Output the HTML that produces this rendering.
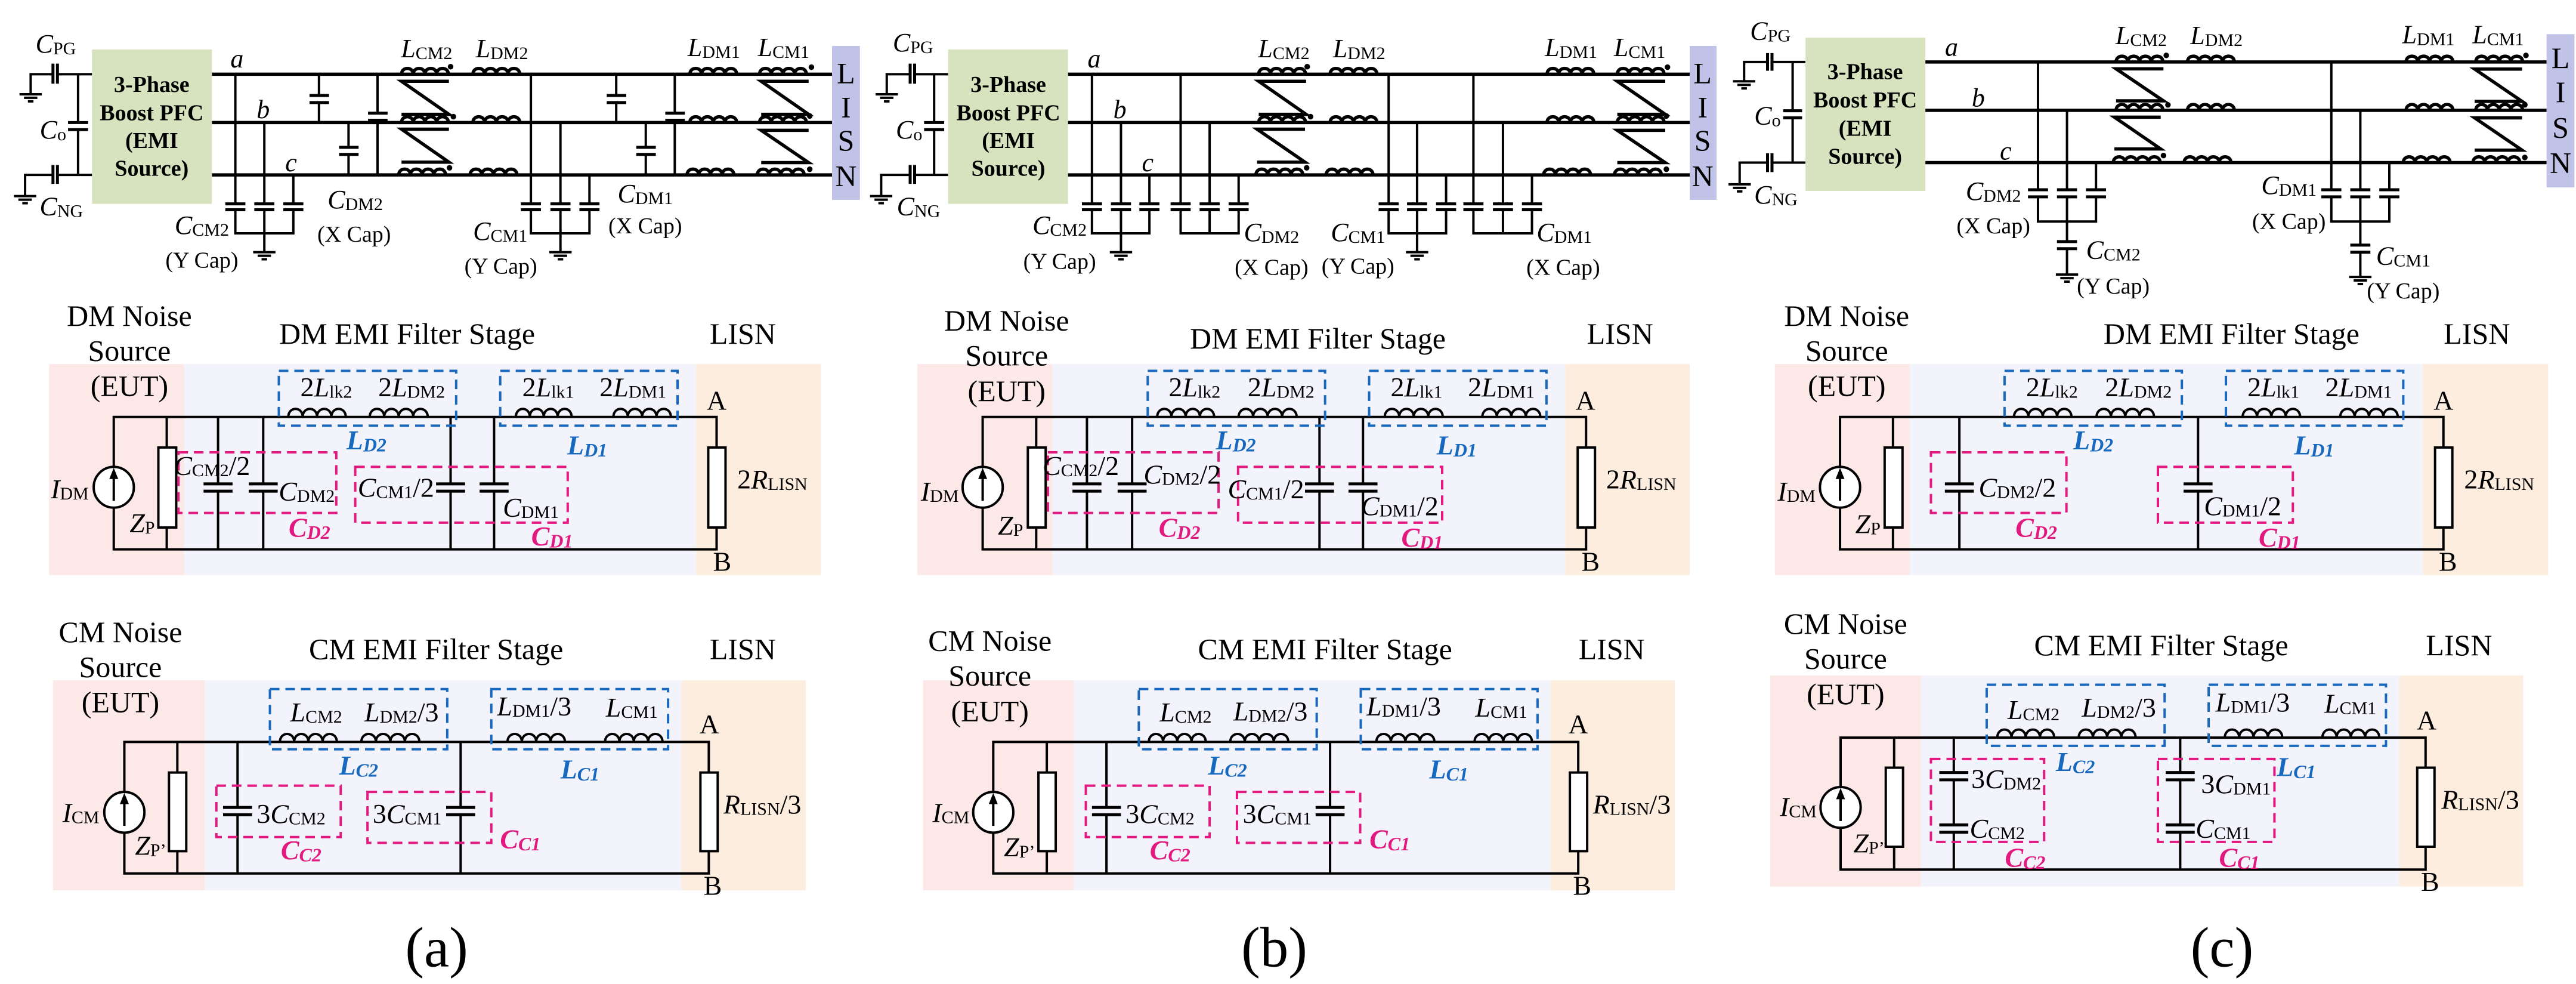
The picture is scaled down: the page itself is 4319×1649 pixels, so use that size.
<!DOCTYPE html>
<html><head><meta charset="utf-8"><style>
html,body{margin:0;padding:0;background:#fff}
svg{display:block}
svg text,svg tspan{font-family:"Liberation Serif","Times New Roman",serif}
text{text-anchor:middle;dominant-baseline:central;fill:#000}
.tt{transform-box:fill-box;transform-origin:center;transform:scale(1.0695,2.532);font-size:44px}
.tb{transform-box:fill-box;transform-origin:center;transform:scale(1.0695,1.23);font-size:46px}
.ttl{font-size:50px}
.cap{font-size:38px}
.big{font-size:95px}
.bf{font-weight:bold;font-size:38px}
.lis{font-size:50px}
.i{font-style:italic}
.pk{fill:#e2197f;font-weight:bold;font-style:italic}
.bl{fill:#1769bf;font-weight:bold;font-style:italic}
.w{stroke:#000;fill:none;stroke-width:4;vector-effect:non-scaling-stroke}
.W{stroke:#000;fill:none;stroke-width:5.5;vector-effect:non-scaling-stroke}
.p{stroke:#000;fill:none;stroke-width:5;vector-effect:non-scaling-stroke}
.r{stroke:#000;fill:#fff;stroke-width:4;vector-effect:non-scaling-stroke}
.db{stroke:#1769bf;fill:none;stroke-width:4;stroke-dasharray:16 10;vector-effect:non-scaling-stroke}
.dp{stroke:#e2197f;fill:none;stroke-width:4;stroke-dasharray:16 10;vector-effect:non-scaling-stroke}
.pkb{fill:#fde8e8}.lav{fill:#f3f3fb}.pch{fill:#fdeddf}
</style></head><body>
<svg width="4319" height="1649" viewBox="0 0 4319 1649" xmlns="http://www.w3.org/2000/svg" font-family="Liberation Serif, serif">
<rect width="4319" height="1649" fill="#fff"/>

<!-- ============ PANEL A TOP ============ -->
<g transform="translate(0,0) scale(0.935,0.395)">
<path class="W" d="M380,315H1495M380,520H1495M380,742H1495"/>
<path class="w" d="M55,400V315H95M103,315H165M140,315V525M140,545V742M45,830V742H95M103,742H165"/>
<path class="p" d="M95,270V355M103,270V355M122,520H158M122,550H158M95,700V780M103,700V780"/>
<path class="w" d="M35,400H75M43,415H67M50,430H60M25,832H65M33,847H57M40,862H50"/>
<rect x="165" y="210" width="215" height="655" fill="#d7e3be"/>
<path class="w" d="M422,315V870M422,885V990H526V885M526,870V742M474,520V870M474,885V1070"/>
<path class="p" d="M404,865H440M404,890H440M456,865H492M456,890H492M508,865H544M508,890H544"/>
<path class="w" d="M454,1070H494M462,1085H486M469,1100H479"/>
<path class="w" d="M572,315V410M572,430V520M625,520V630M625,650V742M677,315V485M677,505V742"/>
<path class="p" d="M555,405H590M555,435H590M608,625H643M608,655H643M660,480H695M660,510H695"/>
<path class="w" d="M952,315V870M952,885V990H1057V885M1057,870V742M1005,520V870M1005,885V1070"/>
<path class="p" d="M934,865H970M934,890H970M987,865H1023M987,890H1023M1039,865H1075M1039,890H1075"/>
<path class="w" d="M985,1070H1025M993,1085H1017M1000,1100H1010"/>
<path class="w" d="M1105,315V410M1105,430V520M1158,520V630M1158,650V742M1210,315V485M1210,505V742"/>
<path class="p" d="M1088,405H1123M1088,435H1123M1141,625H1176M1141,655H1176M1193,480H1228M1193,510H1228"/>
<path class="W" d="M720,315c0,-33 21,-33 21,0c0,-33 21,-33 21,0c0,-33 21,-33 21,0c0,-33 21,-33 21,0M720,520c0,-33 21,-33 21,0c0,-33 21,-33 21,0c0,-33 21,-33 21,0c0,-33 21,-33 21,0M715,742c0,-33 21,-33 21,0c0,-33 21,-33 21,0c0,-33 21,-33 21,0c0,-33 21,-33 21,0"/>
<path class="W" d="M848,315c0,-33 21,-33 21,0c0,-33 21,-33 21,0c0,-33 21,-33 21,0c0,-33 21,-33 21,0M848,520c0,-33 21,-33 21,0c0,-33 21,-33 21,0c0,-33 21,-33 21,0c0,-33 21,-33 21,0M843,742c0,-33 21,-33 21,0c0,-33 21,-33 21,0c0,-33 21,-33 21,0c0,-33 21,-33 21,0"/>
<path class="W" d="M1237,315c0,-33 21,-33 21,0c0,-33 21,-33 21,0c0,-33 21,-33 21,0c0,-33 21,-33 21,0M1237,520c0,-33 21,-33 21,0c0,-33 21,-33 21,0c0,-33 21,-33 21,0c0,-33 21,-33 21,0M1232,742c0,-33 21,-33 21,0c0,-33 21,-33 21,0c0,-33 21,-33 21,0c0,-33 21,-33 21,0"/>
<path class="W" d="M1362,315c0,-33 21,-33 21,0c0,-33 21,-33 21,0c0,-33 21,-33 21,0c0,-33 21,-33 21,0M1362,520c0,-33 21,-33 21,0c0,-33 21,-33 21,0c0,-33 21,-33 21,0c0,-33 21,-33 21,0M1358,742c0,-33 21,-33 21,0c0,-33 21,-33 21,0c0,-33 21,-33 21,0c0,-33 21,-33 21,0"/>
<path class="W" d="M805,345H720L805,485H720M805,548H720L805,688H720M1450,345H1365L1450,485H1365M1450,553H1365L1450,690H1365"/>
<g fill="#000"><ellipse cx="808" cy="283" rx="5" ry="12"/><ellipse cx="813" cy="495" rx="5" ry="12"/><ellipse cx="806" cy="712" rx="5" ry="12"/><ellipse cx="1455" cy="285" rx="5" ry="12"/><ellipse cx="1452" cy="492" rx="5" ry="12"/><ellipse cx="1452" cy="718" rx="5" ry="12"/></g>
<rect x="1492" y="195" width="50" height="653" fill="#c0c3e7"/>
<text class="tt" x="100" y="185"><tspan class="i">C</tspan><tspan font-size="30" dy="8">PG</tspan></text>
<text class="tt" x="95" y="550"><tspan class="i">C</tspan><tspan font-size="30" dy="8">o</tspan></text>
<text class="tt" x="110" y="875"><tspan class="i">C</tspan><tspan font-size="30" dy="8">NG</tspan></text>
<text class="tt bf" x="272" y="360">3-Phase</text><text class="tt bf" x="272" y="480">Boost PFC</text><text class="tt bf" x="272" y="597">(EMI</text><text class="tt bf" x="272" y="715">Source)</text>
<text class="tt i" x="425" y="250">a</text><text class="tt i" x="472" y="465">b</text><text class="tt i" x="522" y="690">c</text>
<text class="tt" x="765" y="205"><tspan class="i">L</tspan><tspan font-size="30" dy="8">CM2</tspan></text>
<text class="tt" x="900" y="205"><tspan class="i">L</tspan><tspan font-size="30" dy="8">DM2</tspan></text>
<text class="tt" x="1280" y="200"><tspan class="i">L</tspan><tspan font-size="30" dy="8">DM1</tspan></text>
<text class="tt" x="1405" y="200"><tspan class="i">L</tspan><tspan font-size="30" dy="8">CM1</tspan></text>
<text class="tt" x="362" y="955"><tspan class="i">C</tspan><tspan font-size="30" dy="8">CM2</tspan></text>
<text class="tt cap" x="362" y="1105">(Y Cap)</text>
<text class="tt" x="637" y="845"><tspan class="i">C</tspan><tspan font-size="30" dy="8">DM2</tspan></text>
<text class="tt cap" x="635" y="995">(X Cap)</text>
<text class="tt" x="897" y="980"><tspan class="i">C</tspan><tspan font-size="30" dy="8">CM1</tspan></text>
<text class="tt cap" x="898" y="1130">(Y Cap)</text>
<text class="tt" x="1157" y="820"><tspan class="i">C</tspan><tspan font-size="30" dy="8">DM1</tspan></text>
<text class="tt cap" x="1157" y="960">(X Cap)</text>
<text class="tt lis" x="1517" y="310">L</text><text class="tt lis" x="1517" y="455">I</text><text class="tt lis" x="1517" y="595">S</text><text class="tt lis" x="1517" y="745">N</text>
</g>

<!-- ============ PANEL B TOP ============ -->
<g transform="translate(1440,0) scale(0.935,0.395)">
<path class="W" d="M375,315H1490M375,520H1490M375,742H1490"/>
<path class="w" d="M50,400V315H92M100,315H160M135,315V525M135,545V742M40,830V742H92M100,742H160"/>
<path class="p" d="M92,270V355M100,270V355M117,520H153M117,550H153M92,700V780M100,700V780"/>
<path class="w" d="M30,400H70M38,415H62M45,430H55M20,832H60M28,847H52M35,862H45"/>
<rect x="160" y="210" width="215" height="655" fill="#d7e3be"/>
<path class="w" d="M418,315V870M418,885V990H521V885M521,870V742M470,520V870M470,885V1070"/>
<path class="p" d="M400,865H436M400,890H436M452,865H488M452,890H488M503,865H539M503,890H539"/>
<path class="w" d="M450,1070H490M458,1085H482M465,1100H475"/>
<path class="w" d="M577,315V870M577,885V990H681V885M681,870V742M629,520V870M629,885V990"/>
<path class="p" d="M559,865H595M559,890H595M611,865H647M611,890H647M663,865H699M663,890H699"/>
<path class="w" d="M950,315V870M950,885V990H1053V885M1053,870V742M1001,520V870M1001,885V1070"/>
<path class="p" d="M932,865H968M932,890H968M983,865H1019M983,890H1019M1035,865H1071M1035,890H1071"/>
<path class="w" d="M981,1070H1021M989,1085H1013M996,1100H1006"/>
<path class="w" d="M1102,315V870M1102,885V990H1207V885M1207,870V742M1155,520V870M1155,885V990"/>
<path class="p" d="M1084,865H1120M1084,890H1120M1137,865H1173M1137,890H1173M1189,865H1225M1189,890H1225"/>
<path class="W" d="M717,315c0,-33 21,-33 21,0c0,-33 21,-33 21,0c0,-33 21,-33 21,0c0,-33 21,-33 21,0M717,520c0,-33 21,-33 21,0c0,-33 21,-33 21,0c0,-33 21,-33 21,0c0,-33 21,-33 21,0M712,742c0,-33 21,-33 21,0c0,-33 21,-33 21,0c0,-33 21,-33 21,0c0,-33 21,-33 21,0"/>
<path class="W" d="M845,315c0,-33 21,-33 21,0c0,-33 21,-33 21,0c0,-33 21,-33 21,0c0,-33 21,-33 21,0M845,520c0,-33 21,-33 21,0c0,-33 21,-33 21,0c0,-33 21,-33 21,0c0,-33 21,-33 21,0M838,742c0,-33 21,-33 21,0c0,-33 21,-33 21,0c0,-33 21,-33 21,0c0,-33 21,-33 21,0"/>
<path class="W" d="M1234,315c0,-33 21,-33 21,0c0,-33 21,-33 21,0c0,-33 21,-33 21,0c0,-33 21,-33 21,0M1234,520c0,-33 21,-33 21,0c0,-33 21,-33 21,0c0,-33 21,-33 21,0c0,-33 21,-33 21,0M1228,742c0,-33 21,-33 21,0c0,-33 21,-33 21,0c0,-33 21,-33 21,0c0,-33 21,-33 21,0"/>
<path class="W" d="M1360,315c0,-33 21,-33 21,0c0,-33 21,-33 21,0c0,-33 21,-33 21,0c0,-33 21,-33 21,0M1360,520c0,-33 21,-33 21,0c0,-33 21,-33 21,0c0,-33 21,-33 21,0c0,-33 21,-33 21,0M1355,742c0,-33 21,-33 21,0c0,-33 21,-33 21,0c0,-33 21,-33 21,0c0,-33 21,-33 21,0"/>
<path class="W" d="M802,345H717L802,485H717M800,548H714L800,688H714M1446,345H1360L1446,485H1360M1446,553H1360L1446,690H1360"/>
<g fill="#000"><ellipse cx="804" cy="283" rx="5" ry="12"/><ellipse cx="810" cy="495" rx="5" ry="12"/><ellipse cx="803" cy="712" rx="5" ry="12"/><ellipse cx="1450" cy="285" rx="5" ry="12"/><ellipse cx="1448" cy="492" rx="5" ry="12"/><ellipse cx="1448" cy="718" rx="5" ry="12"/></g>
<rect x="1490" y="195" width="48" height="653" fill="#c0c3e7"/>
<text class="tt" x="97" y="180"><tspan class="i">C</tspan><tspan font-size="30" dy="8">PG</tspan></text>
<text class="tt" x="90" y="550"><tspan class="i">C</tspan><tspan font-size="30" dy="8">o</tspan></text>
<text class="tt" x="107" y="875"><tspan class="i">C</tspan><tspan font-size="30" dy="8">NG</tspan></text>
<text class="tt bf" x="268" y="360">3-Phase</text><text class="tt bf" x="268" y="480">Boost PFC</text><text class="tt bf" x="268" y="597">(EMI</text><text class="tt bf" x="268" y="715">Source)</text>
<text class="tt i" x="422" y="250">a</text><text class="tt i" x="468" y="465">b</text><text class="tt i" x="518" y="690">c</text>
<text class="tt" x="762" y="205"><tspan class="i">L</tspan><tspan font-size="30" dy="8">CM2</tspan></text>
<text class="tt" x="897" y="205"><tspan class="i">L</tspan><tspan font-size="30" dy="8">DM2</tspan></text>
<text class="tt" x="1277" y="200"><tspan class="i">L</tspan><tspan font-size="30" dy="8">DM1</tspan></text>
<text class="tt" x="1400" y="200"><tspan class="i">L</tspan><tspan font-size="30" dy="8">CM1</tspan></text>
<text class="tt" x="360" y="955"><tspan class="i">C</tspan><tspan font-size="30" dy="8">CM2</tspan></text>
<text class="tt cap" x="360" y="1110">(Y Cap)</text>
<text class="tt" x="740" y="985"><tspan class="i">C</tspan><tspan font-size="30" dy="8">DM2</tspan></text>
<text class="tt cap" x="740" y="1135">(X Cap)</text>
<text class="tt" x="895" y="985"><tspan class="i">C</tspan><tspan font-size="30" dy="8">CM1</tspan></text>
<text class="tt cap" x="895" y="1130">(Y Cap)</text>
<text class="tt" x="1265" y="985"><tspan class="i">C</tspan><tspan font-size="30" dy="8">DM1</tspan></text>
<text class="tt cap" x="1263" y="1135">(X Cap)</text>
<text class="tt lis" x="1513" y="310">L</text><text class="tt lis" x="1513" y="455">I</text><text class="tt lis" x="1513" y="595">S</text><text class="tt lis" x="1513" y="745">N</text>
</g>

<!-- ============ PANEL C TOP ============ -->
<g transform="translate(2870,0) scale(0.935,0.395)">
<path class="W" d="M383,263H1497M383,468H1497M383,690H1497"/>
<path class="w" d="M58,345V263H100M108,263H168M145,263V475M145,495V690M50,780V690H100M108,690H168"/>
<path class="p" d="M100,225V300M108,225V300M128,470H162M128,500H162M100,650V730M108,650V730"/>
<path class="w" d="M38,345H78M46,360H70M53,375H63M30,782H70M38,797H62M45,812H55"/>
<rect x="168" y="160" width="215" height="650" fill="#d7e3be"/>
<path class="w" d="M585,263V810M585,830V940H689V830M689,810V690M637,468V810M637,830V1030M637,1050V1165"/>
<path class="p" d="M567,805H603M567,835H603M619,805H655M619,835H655M671,805H707M671,835H707M619,1025H655M619,1055H655"/>
<path class="w" d="M617,1165H657M625,1180H649M632,1195H642"/>
<path class="w" d="M1111,263V810M1111,830V940H1215V830M1215,810V690M1163,468V810M1163,830V1045M1163,1065V1175"/>
<path class="p" d="M1093,805H1129M1093,835H1129M1145,805H1181M1145,835H1181M1197,805H1233M1197,835H1233M1145,1040H1181M1145,1070H1181"/>
<path class="w" d="M1143,1175H1183M1151,1190H1175M1158,1205H1168"/>
<path class="W" d="M725,263c0,-33 21,-33 21,0c0,-33 21,-33 21,0c0,-33 21,-33 21,0c0,-33 21,-33 21,0M725,468c0,-33 21,-33 21,0c0,-33 21,-33 21,0c0,-33 21,-33 21,0c0,-33 21,-33 21,0M720,690c0,-33 21,-33 21,0c0,-33 21,-33 21,0c0,-33 21,-33 21,0c0,-33 21,-33 21,0"/>
<path class="W" d="M853,263c0,-33 21,-33 21,0c0,-33 21,-33 21,0c0,-33 21,-33 21,0c0,-33 21,-33 21,0M853,468c0,-33 21,-33 21,0c0,-33 21,-33 21,0c0,-33 21,-33 21,0c0,-33 21,-33 21,0M847,690c0,-33 21,-33 21,0c0,-33 21,-33 21,0c0,-33 21,-33 21,0c0,-33 21,-33 21,0"/>
<path class="W" d="M1245,263c0,-33 21,-33 21,0c0,-33 21,-33 21,0c0,-33 21,-33 21,0c0,-33 21,-33 21,0M1245,468c0,-33 21,-33 21,0c0,-33 21,-33 21,0c0,-33 21,-33 21,0c0,-33 21,-33 21,0M1240,690c0,-33 21,-33 21,0c0,-33 21,-33 21,0c0,-33 21,-33 21,0c0,-33 21,-33 21,0"/>
<path class="W" d="M1370,263c0,-33 21,-33 21,0c0,-33 21,-33 21,0c0,-33 21,-33 21,0c0,-33 21,-33 21,0M1370,468c0,-33 21,-33 21,0c0,-33 21,-33 21,0c0,-33 21,-33 21,0c0,-33 21,-33 21,0M1365,690c0,-33 21,-33 21,0c0,-33 21,-33 21,0c0,-33 21,-33 21,0c0,-33 21,-33 21,0"/>
<path class="W" d="M810,292H725L810,428H725M805,497H722L805,632H722M1453,293H1368L1453,430H1368M1453,500H1368L1453,637H1368"/>
<g fill="#000"><ellipse cx="815" cy="235" rx="5" ry="12"/><ellipse cx="818" cy="445" rx="5" ry="12"/><ellipse cx="810" cy="660" rx="5" ry="12"/><ellipse cx="1460" cy="235" rx="5" ry="12"/><ellipse cx="1458" cy="445" rx="5" ry="12"/><ellipse cx="1458" cy="668" rx="5" ry="12"/></g>
<rect x="1497" y="145" width="50" height="650" fill="#c0c3e7"/>
<text class="tt" x="105" y="130"><tspan class="i">C</tspan><tspan font-size="30" dy="8">PG</tspan></text>
<text class="tt" x="100" y="490"><tspan class="i">C</tspan><tspan font-size="30" dy="8">o</tspan></text>
<text class="tt" x="115" y="825"><tspan class="i">C</tspan><tspan font-size="30" dy="8">NG</tspan></text>
<text class="tt bf" x="275" y="305">3-Phase</text><text class="tt bf" x="275" y="425">Boost PFC</text><text class="tt bf" x="275" y="545">(EMI</text><text class="tt bf" x="275" y="665">Source)</text>
<text class="tt i" x="430" y="200">a</text><text class="tt i" x="478" y="415">b</text><text class="tt i" x="527" y="640">c</text>
<text class="tt" x="770" y="150"><tspan class="i">L</tspan><tspan font-size="30" dy="8">CM2</tspan></text>
<text class="tt" x="905" y="150"><tspan class="i">L</tspan><tspan font-size="30" dy="8">DM2</tspan></text>
<text class="tt" x="1285" y="145"><tspan class="i">L</tspan><tspan font-size="30" dy="8">DM1</tspan></text>
<text class="tt" x="1410" y="145"><tspan class="i">L</tspan><tspan font-size="30" dy="8">CM1</tspan></text>
<text class="tt" x="505" y="810"><tspan class="i">C</tspan><tspan font-size="30" dy="8">DM2</tspan></text>
<text class="tt cap" x="505" y="960">(X Cap)</text>
<text class="tt" x="720" y="1060"><tspan class="i">C</tspan><tspan font-size="30" dy="8">CM2</tspan></text>
<text class="tt cap" x="720" y="1215">(Y Cap)</text>
<text class="tt" x="1035" y="785"><tspan class="i">C</tspan><tspan font-size="30" dy="8">DM1</tspan></text>
<text class="tt cap" x="1035" y="940">(X Cap)</text>
<text class="tt" x="1240" y="1085"><tspan class="i">C</tspan><tspan font-size="30" dy="8">CM1</tspan></text>
<text class="tt cap" x="1240" y="1235">(Y Cap)</text>
<text class="tt lis" x="1522" y="245">L</text><text class="tt lis" x="1522" y="390">I</text><text class="tt lis" x="1522" y="540">S</text><text class="tt lis" x="1522" y="690">N</text>
</g>

<!-- ============ PANEL A BOTTOM ============ -->
<g transform="translate(0,380) scale(0.935,0.813)">
<rect class="pkb" x="88" y="283" width="242" height="435"/><rect class="lav" x="330" y="283" width="918" height="435"/><rect class="pch" x="1248" y="283" width="224" height="435"/>
<path class="w" d="M204,495V392H1285V455M1285,620V665H204V579M299,392V455M299,620V665M391,392V530M391,545V665M472,392V530M472,545V665M808,392V530M808,545V665M886,392V530M886,545V665"/>
<path class="p" d="M365,530H417M365,545H417M446,530H498M446,545H498M782,530H834M782,545H834M860,530H912M860,545H912"/>
<rect class="r" x="284" y="455" width="32" height="165"/><rect class="r" x="1270" y="455" width="31" height="165"/>
<ellipse class="r" cx="204" cy="537" rx="36" ry="42"/><path class="w" d="M204,565V515"/><path d="M204,497L196,520H212Z" fill="#000"/>
<path class="w" d="M517,392c0,-22 25.75,-22 25.75,0c0,-22 25.75,-22 25.75,0c0,-22 25.75,-22 25.75,0c0,-22 25.75,-22 25.75,0M663,392c0,-22 26,-22 26,0c0,-22 26,-22 26,0c0,-22 26,-22 26,0c0,-22 26,-22 26,0M925,392c0,-22 25,-22 25,0c0,-22 25,-22 25,0c0,-22 25,-22 25,0c0,-22 25,-22 25,0M1100,392c0,-22 25.75,-22 25.75,0c0,-22 25.75,-22 25.75,0c0,-22 25.75,-22 25.75,0c0,-22 25.75,-22 25.75,0"/>
<rect class="db" x="500" y="297" width="318" height="113"/><rect class="db" x="897" y="297" width="318" height="113"/>
<rect class="dp" x="320" y="465" width="283" height="125"/><rect class="dp" x="637" y="495" width="381" height="115"/>
<text class="tb ttl" x="232" y="183">DM Noise</text><text class="tb ttl" x="232" y="255">Source</text><text class="tb ttl" x="232" y="328">(EUT)</text>
<text class="tb ttl" x="730" y="220">DM EMI Filter Stage</text><text class="tb ttl" x="1332" y="220">LISN</text>
<text class="tb" x="125" y="540"><tspan class="i">I</tspan><tspan font-size="30" dy="8">DM</tspan></text>
<text class="tb" x="255" y="610"><tspan class="i">Z</tspan><tspan font-size="30" dy="8">P</tspan></text>
<text class="tb" x="380" y="492"><tspan class="i">C</tspan><tspan font-size="30" dy="8">CM2</tspan><tspan dy="-8">/2</tspan></text>
<text class="tb" x="550" y="545"><tspan class="i">C</tspan><tspan font-size="30" dy="8">DM2</tspan></text>
<text class="tb" x="710" y="537"><tspan class="i">C</tspan><tspan font-size="30" dy="8">CM1</tspan><tspan dy="-8">/2</tspan></text>
<text class="tb" x="952" y="578"><tspan class="i">C</tspan><tspan font-size="30" dy="8">DM1</tspan></text>
<text class="tb pk" x="555" y="620">C<tspan font-size="32" dy="8">D2</tspan></text>
<text class="tb pk" x="990" y="638">C<tspan font-size="32" dy="8">D1</tspan></text>
<text class="tb" x="585" y="330">2<tspan class="i">L</tspan><tspan font-size="30" dy="8">lk2</tspan></text>
<text class="tb" x="738" y="330">2<tspan class="i">L</tspan><tspan font-size="30" dy="8">DM2</tspan></text>
<text class="tb" x="983" y="330">2<tspan class="i">L</tspan><tspan font-size="30" dy="8">lk1</tspan></text>
<text class="tb" x="1135" y="330">2<tspan class="i">L</tspan><tspan font-size="30" dy="8">DM1</tspan></text>
<text class="tb bl" x="657" y="440">L<tspan font-size="32" dy="8">D2</tspan></text>
<text class="tb bl" x="1053" y="450">L<tspan font-size="32" dy="8">D1</tspan></text>
<text class="tb" x="1285" y="358">A</text><text class="tb" x="1295" y="690">B</text>
<text class="tb" x="1385" y="520">2<tspan class="i">R</tspan><tspan font-size="30" dy="8">LISN</tspan></text>
<rect class="pkb" x="95" y="935" width="272" height="433"/><rect class="lav" x="367" y="935" width="855" height="433"/><rect class="pch" x="1222" y="935" width="223" height="433"/>
<path class="w" d="M223,1165V1062H1271V1125M1271,1287V1333H223V1249M318,1062V1125M318,1287V1333M426,1062V1197M426,1212V1333M826,1062V1197M826,1212V1333"/>
<path class="p" d="M400,1197H452M400,1212H452M800,1197H852M800,1212H852"/>
<rect class="r" x="303" y="1125" width="31" height="162"/><rect class="r" x="1256" y="1125" width="31" height="162"/>
<ellipse class="r" cx="223" cy="1207" rx="36" ry="42"/><path class="w" d="M223,1235V1185"/><path d="M223,1167L215,1190H231Z" fill="#000"/>
<path class="w" d="M502,1062c0,-22 25.5,-22 25.5,0c0,-22 25.5,-22 25.5,0c0,-22 25.5,-22 25.5,0c0,-22 25.5,-22 25.5,0M648,1062c0,-22 26,-22 26,0c0,-22 26,-22 26,0c0,-22 26,-22 26,0c0,-22 26,-22 26,0M910,1062c0,-22 25.75,-22 25.75,0c0,-22 25.75,-22 25.75,0c0,-22 25.75,-22 25.75,0c0,-22 25.75,-22 25.75,0M1085,1062c0,-22 25.75,-22 25.75,0c0,-22 25.75,-22 25.75,0c0,-22 25.75,-22 25.75,0c0,-22 25.75,-22 25.75,0"/>
<rect class="db" x="484" y="953" width="318" height="124"/><rect class="db" x="881" y="953" width="317" height="124"/>
<rect class="dp" x="388" y="1152" width="223" height="106"/><rect class="dp" x="659" y="1165" width="222" height="105"/>
<text class="tb ttl" x="216" y="835">CM Noise</text><text class="tb ttl" x="216" y="907">Source</text><text class="tb ttl" x="216" y="980">(EUT)</text>
<text class="tb ttl" x="782" y="870">CM EMI Filter Stage</text><text class="tb ttl" x="1332" y="870">LISN</text>
<text class="tb" x="145" y="1207"><tspan class="i">I</tspan><tspan font-size="30" dy="8">CM</tspan></text>
<text class="tb" x="270" y="1275"><tspan class="i">Z</tspan><tspan font-size="30" dy="8">P’</tspan></text>
<text class="tb" x="522" y="1210">3<tspan class="i">C</tspan><tspan font-size="30" dy="8">CM2</tspan></text>
<text class="tb" x="730" y="1210">3<tspan class="i">C</tspan><tspan font-size="30" dy="8">CM1</tspan></text>
<text class="tb pk" x="540" y="1285">C<tspan font-size="32" dy="8">C2</tspan></text>
<text class="tb pk" x="933" y="1262">C<tspan font-size="32" dy="8">C1</tspan></text>
<text class="tb" x="567" y="1000"><tspan class="i">L</tspan><tspan font-size="30" dy="8">CM2</tspan></text>
<text class="tb" x="720" y="1000"><tspan class="i">L</tspan><tspan font-size="30" dy="8">DM2</tspan><tspan dy="-8">/3</tspan></text>
<text class="tb" x="958" y="988"><tspan class="i">L</tspan><tspan font-size="30" dy="8">DM1</tspan><tspan dy="-8">/3</tspan></text>
<text class="tb" x="1133" y="990"><tspan class="i">L</tspan><tspan font-size="30" dy="8">CM1</tspan></text>
<text class="tb bl" x="643" y="1110">L<tspan font-size="32" dy="8">C2</tspan></text>
<text class="tb bl" x="1040" y="1118">L<tspan font-size="32" dy="8">C1</tspan></text>
<text class="tb" x="1272" y="1025">A</text><text class="tb" x="1278" y="1358">B</text>
<text class="tb" x="1367" y="1190"><tspan class="i">R</tspan><tspan font-size="30" dy="8">LISN</tspan><tspan dy="-8">/3</tspan></text>
<text class="tb big" x="783" y="1485">(a)</text>
</g>

<!-- ============ PANEL B BOTTOM ============ -->
<g transform="translate(1440,380) scale(0.935,0.813)">
<rect class="pkb" x="105" y="283" width="242" height="435"/><rect class="lav" x="347" y="283" width="920" height="435"/><rect class="pch" x="1267" y="283" width="223" height="435"/>
<path class="w" d="M222,495V392H1304V455M1304,620V665H222V579M318,392V455M318,620V665M409,392V530M409,545V665M490,392V530M490,545V665M826,392V530M826,545V665M904,392V530M904,545V665"/>
<path class="p" d="M383,530H435M383,545H435M464,530H516M464,545H516M800,530H852M800,545H852M878,530H930M878,545H930"/>
<rect class="r" x="303" y="455" width="32" height="165"/><rect class="r" x="1289" y="455" width="31" height="165"/>
<ellipse class="r" cx="222" cy="537" rx="36" ry="42"/><path class="w" d="M222,565V515"/><path d="M222,497L214,520H230Z" fill="#000"/>
<path class="w" d="M535,392c0,-22 25.5,-22 25.5,0c0,-22 25.5,-22 25.5,0c0,-22 25.5,-22 25.5,0c0,-22 25.5,-22 25.5,0M681,392c0,-22 26,-22 26,0c0,-22 26,-22 26,0c0,-22 26,-22 26,0c0,-22 26,-22 26,0M943,392c0,-22 26,-22 26,0c0,-22 26,-22 26,0c0,-22 26,-22 26,0c0,-22 26,-22 26,0M1118,392c0,-22 26,-22 26,0c0,-22 26,-22 26,0c0,-22 26,-22 26,0c0,-22 26,-22 26,0"/>
<rect class="db" x="518" y="297" width="318" height="113"/><rect class="db" x="915" y="297" width="318" height="113"/>
<rect class="dp" x="339" y="465" width="306" height="125"/><rect class="dp" x="680" y="495" width="366" height="115"/>
<text class="tb ttl" x="265" y="193">DM Noise</text><text class="tb ttl" x="265" y="265">Source</text><text class="tb ttl" x="265" y="338">(EUT)</text>
<text class="tb ttl" x="823" y="230">DM EMI Filter Stage</text><text class="tb ttl" x="1365" y="220">LISN</text>
<text class="tb" x="145" y="545"><tspan class="i">I</tspan><tspan font-size="30" dy="8">DM</tspan></text>
<text class="tb" x="272" y="615"><tspan class="i">Z</tspan><tspan font-size="30" dy="8">P</tspan></text>
<text class="tb" x="398" y="492"><tspan class="i">C</tspan><tspan font-size="30" dy="8">CM2</tspan><tspan dy="-8">/2</tspan></text>
<text class="tb" x="580" y="510"><tspan class="i">C</tspan><tspan font-size="30" dy="8">DM2</tspan><tspan dy="-8">/2</tspan></text>
<text class="tb" x="730" y="540"><tspan class="i">C</tspan><tspan font-size="30" dy="8">CM1</tspan><tspan dy="-8">/2</tspan></text>
<text class="tb" x="970" y="575"><tspan class="i">C</tspan><tspan font-size="30" dy="8">DM1</tspan><tspan dy="-8">/2</tspan></text>
<text class="tb pk" x="575" y="620">C<tspan font-size="32" dy="8">D2</tspan></text>
<text class="tb pk" x="1010" y="640">C<tspan font-size="32" dy="8">D1</tspan></text>
<text class="tb" x="602" y="330">2<tspan class="i">L</tspan><tspan font-size="30" dy="8">lk2</tspan></text>
<text class="tb" x="757" y="330">2<tspan class="i">L</tspan><tspan font-size="30" dy="8">DM2</tspan></text>
<text class="tb" x="1000" y="330">2<tspan class="i">L</tspan><tspan font-size="30" dy="8">lk1</tspan></text>
<text class="tb" x="1152" y="330">2<tspan class="i">L</tspan><tspan font-size="30" dy="8">DM1</tspan></text>
<text class="tb bl" x="676" y="440">L<tspan font-size="32" dy="8">D2</tspan></text>
<text class="tb bl" x="1072" y="450">L<tspan font-size="32" dy="8">D1</tspan></text>
<text class="tb" x="1303" y="358">A</text><text class="tb" x="1312" y="690">B</text>
<text class="tb" x="1403" y="520">2<tspan class="i">R</tspan><tspan font-size="30" dy="8">LISN</tspan></text>
<rect class="pkb" x="115" y="935" width="270" height="433"/><rect class="lav" x="385" y="935" width="856" height="433"/><rect class="pch" x="1241" y="935" width="222" height="433"/>
<path class="w" d="M241,1165V1062H1290V1125M1290,1287V1333H241V1249M337,1062V1125M337,1287V1333M444,1062V1197M444,1212V1333M845,1062V1197M845,1212V1333"/>
<path class="p" d="M418,1197H470M418,1212H470M819,1197H871M819,1212H871"/>
<rect class="r" x="322" y="1125" width="31" height="162"/><rect class="r" x="1275" y="1125" width="31" height="162"/>
<ellipse class="r" cx="241" cy="1207" rx="36" ry="42"/><path class="w" d="M241,1235V1185"/><path d="M241,1167L233,1190H249Z" fill="#000"/>
<path class="w" d="M520,1062c0,-22 25.5,-22 25.5,0c0,-22 25.5,-22 25.5,0c0,-22 25.5,-22 25.5,0c0,-22 25.5,-22 25.5,0M666,1062c0,-22 26,-22 26,0c0,-22 26,-22 26,0c0,-22 26,-22 26,0c0,-22 26,-22 26,0M928,1062c0,-22 26,-22 26,0c0,-22 26,-22 26,0c0,-22 26,-22 26,0c0,-22 26,-22 26,0M1104,1062c0,-22 25.75,-22 25.75,0c0,-22 25.75,-22 25.75,0c0,-22 25.75,-22 25.75,0c0,-22 25.75,-22 25.75,0"/>
<rect class="db" x="502" y="953" width="319" height="124"/><rect class="db" x="900" y="953" width="317" height="124"/>
<rect class="dp" x="407" y="1152" width="222" height="106"/><rect class="dp" x="678" y="1165" width="221" height="105"/>
<text class="tb ttl" x="235" y="853">CM Noise</text><text class="tb ttl" x="235" y="925">Source</text><text class="tb ttl" x="235" y="998">(EUT)</text>
<text class="tb ttl" x="836" y="870">CM EMI Filter Stage</text><text class="tb ttl" x="1350" y="870">LISN</text>
<text class="tb" x="165" y="1207"><tspan class="i">I</tspan><tspan font-size="30" dy="8">CM</tspan></text>
<text class="tb" x="288" y="1278"><tspan class="i">Z</tspan><tspan font-size="30" dy="8">P’</tspan></text>
<text class="tb" x="540" y="1210">3<tspan class="i">C</tspan><tspan font-size="30" dy="8">CM2</tspan></text>
<text class="tb" x="750" y="1210">3<tspan class="i">C</tspan><tspan font-size="30" dy="8">CM1</tspan></text>
<text class="tb pk" x="558" y="1285">C<tspan font-size="32" dy="8">C2</tspan></text>
<text class="tb pk" x="952" y="1262">C<tspan font-size="32" dy="8">C1</tspan></text>
<text class="tb" x="586" y="1000"><tspan class="i">L</tspan><tspan font-size="30" dy="8">CM2</tspan></text>
<text class="tb" x="738" y="998"><tspan class="i">L</tspan><tspan font-size="30" dy="8">DM2</tspan><tspan dy="-8">/3</tspan></text>
<text class="tb" x="977" y="988"><tspan class="i">L</tspan><tspan font-size="30" dy="8">DM1</tspan><tspan dy="-8">/3</tspan></text>
<text class="tb" x="1152" y="990"><tspan class="i">L</tspan><tspan font-size="30" dy="8">CM1</tspan></text>
<text class="tb bl" x="661" y="1110">L<tspan font-size="32" dy="8">C2</tspan></text>
<text class="tb bl" x="1058" y="1118">L<tspan font-size="32" dy="8">C1</tspan></text>
<text class="tb" x="1290" y="1025">A</text><text class="tb" x="1297" y="1358">B</text>
<text class="tb" x="1386" y="1190"><tspan class="i">R</tspan><tspan font-size="30" dy="8">LISN</tspan><tspan dy="-8">/3</tspan></text>
<text class="tb big" x="745" y="1485">(b)</text>
</g>

<!-- ============ PANEL C BOTTOM ============ -->
<g transform="translate(2870,380) scale(0.935,0.813)">
<rect class="pkb" x="113" y="283" width="242" height="435"/><rect class="lav" x="355" y="283" width="920" height="435"/><rect class="pch" x="1275" y="283" width="225" height="435"/>
<path class="w" d="M230,495V392H1312V455M1312,620V665H230V579M325,392V455M325,620V665M444,392V530M444,545V665M872,392V530M872,545V665"/>
<path class="p" d="M418,530H470M418,545H470M846,530H898M846,545H898"/>
<rect class="r" x="310" y="455" width="32" height="165"/><rect class="r" x="1297" y="455" width="31" height="165"/>
<ellipse class="r" cx="230" cy="537" rx="36" ry="42"/><path class="w" d="M230,565V515"/><path d="M230,497L222,520H238Z" fill="#000"/>
<path class="w" d="M542,392c0,-22 25.75,-22 25.75,0c0,-22 25.75,-22 25.75,0c0,-22 25.75,-22 25.75,0c0,-22 25.75,-22 25.75,0M690,392c0,-22 25.75,-22 25.75,0c0,-22 25.75,-22 25.75,0c0,-22 25.75,-22 25.75,0c0,-22 25.75,-22 25.75,0M952,392c0,-22 25.75,-22 25.75,0c0,-22 25.75,-22 25.75,0c0,-22 25.75,-22 25.75,0c0,-22 25.75,-22 25.75,0M1127,392c0,-22 25.75,-22 25.75,0c0,-22 25.75,-22 25.75,0c0,-22 25.75,-22 25.75,0c0,-22 25.75,-22 25.75,0"/>
<rect class="db" x="525" y="297" width="318" height="113"/><rect class="db" x="922" y="297" width="318" height="113"/>
<rect class="dp" x="393" y="465" width="243" height="125"/><rect class="dp" x="800" y="495" width="242" height="115"/>
<text class="tb ttl" x="242" y="183">DM Noise</text><text class="tb ttl" x="242" y="255">Source</text><text class="tb ttl" x="242" y="328">(EUT)</text>
<text class="tb ttl" x="932" y="220">DM EMI Filter Stage</text><text class="tb ttl" x="1372" y="220">LISN</text>
<text class="tb" x="152" y="545"><tspan class="i">I</tspan><tspan font-size="30" dy="8">DM</tspan></text>
<text class="tb" x="280" y="612"><tspan class="i">Z</tspan><tspan font-size="30" dy="8">P</tspan></text>
<text class="tb" x="548" y="537"><tspan class="i">C</tspan><tspan font-size="30" dy="8">DM2</tspan><tspan dy="-8">/2</tspan></text>
<text class="tb" x="952" y="575"><tspan class="i">C</tspan><tspan font-size="30" dy="8">DM1</tspan><tspan dy="-8">/2</tspan></text>
<text class="tb pk" x="582" y="620">C<tspan font-size="32" dy="8">D2</tspan></text>
<text class="tb pk" x="1018" y="640">C<tspan font-size="32" dy="8">D1</tspan></text>
<text class="tb" x="610" y="330">2<tspan class="i">L</tspan><tspan font-size="30" dy="8">lk2</tspan></text>
<text class="tb" x="765" y="330">2<tspan class="i">L</tspan><tspan font-size="30" dy="8">DM2</tspan></text>
<text class="tb" x="1007" y="330">2<tspan class="i">L</tspan><tspan font-size="30" dy="8">lk1</tspan></text>
<text class="tb" x="1160" y="330">2<tspan class="i">L</tspan><tspan font-size="30" dy="8">DM1</tspan></text>
<text class="tb bl" x="684" y="440">L<tspan font-size="32" dy="8">D2</tspan></text>
<text class="tb bl" x="1080" y="450">L<tspan font-size="32" dy="8">D1</tspan></text>
<text class="tb" x="1312" y="358">A</text><text class="tb" x="1320" y="690">B</text>
<text class="tb" x="1412" y="520">2<tspan class="i">R</tspan><tspan font-size="30" dy="8">LISN</tspan></text>
<rect class="pkb" x="105" y="925" width="270" height="435"/><rect class="lav" x="375" y="925" width="858" height="435"/><rect class="pch" x="1233" y="925" width="222" height="435"/>
<path class="w" d="M231,1155V1053H1280V1115M1280,1278V1325H231V1239M327,1053V1115M327,1278V1325M434,1053V1125M434,1140V1233M434,1248V1325M840,1053V1125M840,1140V1233M840,1248V1325"/>
<path class="p" d="M408,1125H460M408,1140H460M408,1233H460M408,1248H460M814,1125H866M814,1140H866M814,1233H866M814,1248H866"/>
<rect class="r" x="312" y="1115" width="31" height="163"/><rect class="r" x="1265" y="1115" width="31" height="163"/>
<ellipse class="r" cx="231" cy="1197" rx="36" ry="42"/><path class="w" d="M231,1225V1175"/><path d="M231,1157L223,1180H239Z" fill="#000"/>
<path class="w" d="M512,1053c0,-22 25.5,-22 25.5,0c0,-22 25.5,-22 25.5,0c0,-22 25.5,-22 25.5,0c0,-22 25.5,-22 25.5,0M658,1053c0,-22 25.5,-22 25.5,0c0,-22 25.5,-22 25.5,0c0,-22 25.5,-22 25.5,0c0,-22 25.5,-22 25.5,0M920,1053c0,-22 25.75,-22 25.75,0c0,-22 25.75,-22 25.75,0c0,-22 25.75,-22 25.75,0c0,-22 25.75,-22 25.75,0M1095,1053c0,-22 25.5,-22 25.5,0c0,-22 25.5,-22 25.5,0c0,-22 25.5,-22 25.5,0c0,-22 25.5,-22 25.5,0"/>
<rect class="db" x="493" y="944" width="319" height="126"/><rect class="db" x="891" y="944" width="318" height="126"/>
<rect class="dp" x="393" y="1097" width="203" height="171"/><rect class="dp" x="800" y="1097" width="209" height="171"/>
<text class="tb ttl" x="240" y="818">CM Noise</text><text class="tb ttl" x="240" y="890">Source</text><text class="tb ttl" x="240" y="963">(EUT)</text>
<text class="tb ttl" x="806" y="862">CM EMI Filter Stage</text><text class="tb ttl" x="1340" y="862">LISN</text>
<text class="tb" x="155" y="1195"><tspan class="i">I</tspan><tspan font-size="30" dy="8">CM</tspan></text>
<text class="tb" x="282" y="1270"><tspan class="i">Z</tspan><tspan font-size="30" dy="8">P’</tspan></text>
<text class="tb" x="528" y="1138">3<tspan class="i">C</tspan><tspan font-size="30" dy="8">DM2</tspan></text>
<text class="tb" x="512" y="1240"><tspan class="i">C</tspan><tspan font-size="30" dy="8">CM2</tspan></text>
<text class="tb" x="940" y="1148">3<tspan class="i">C</tspan><tspan font-size="30" dy="8">DM1</tspan></text>
<text class="tb" x="917" y="1240"><tspan class="i">C</tspan><tspan font-size="30" dy="8">CM1</tspan></text>
<text class="tb pk" x="562" y="1300">C<tspan font-size="32" dy="8">C2</tspan></text>
<text class="tb pk" x="946" y="1300">C<tspan font-size="32" dy="8">C1</tspan></text>
<text class="tb" x="577" y="995"><tspan class="i">L</tspan><tspan font-size="30" dy="8">CM2</tspan></text>
<text class="tb" x="730" y="990"><tspan class="i">L</tspan><tspan font-size="30" dy="8">DM2</tspan><tspan dy="-8">/3</tspan></text>
<text class="tb" x="970" y="980"><tspan class="i">L</tspan><tspan font-size="30" dy="8">DM1</tspan><tspan dy="-8">/3</tspan></text>
<text class="tb" x="1145" y="982"><tspan class="i">L</tspan><tspan font-size="30" dy="8">CM1</tspan></text>
<text class="tb bl" x="652" y="1103">L<tspan font-size="32" dy="8">C2</tspan></text>
<text class="tb bl" x="1048" y="1113">L<tspan font-size="32" dy="8">C1</tspan></text>
<text class="tb" x="1282" y="1017">A</text><text class="tb" x="1288" y="1350">B</text>
<text class="tb" x="1378" y="1180"><tspan class="i">R</tspan><tspan font-size="30" dy="8">LISN</tspan><tspan dy="-8">/3</tspan></text>
<text class="tb big" x="915" y="1485">(c)</text>
</g>
</svg>
</body></html>
